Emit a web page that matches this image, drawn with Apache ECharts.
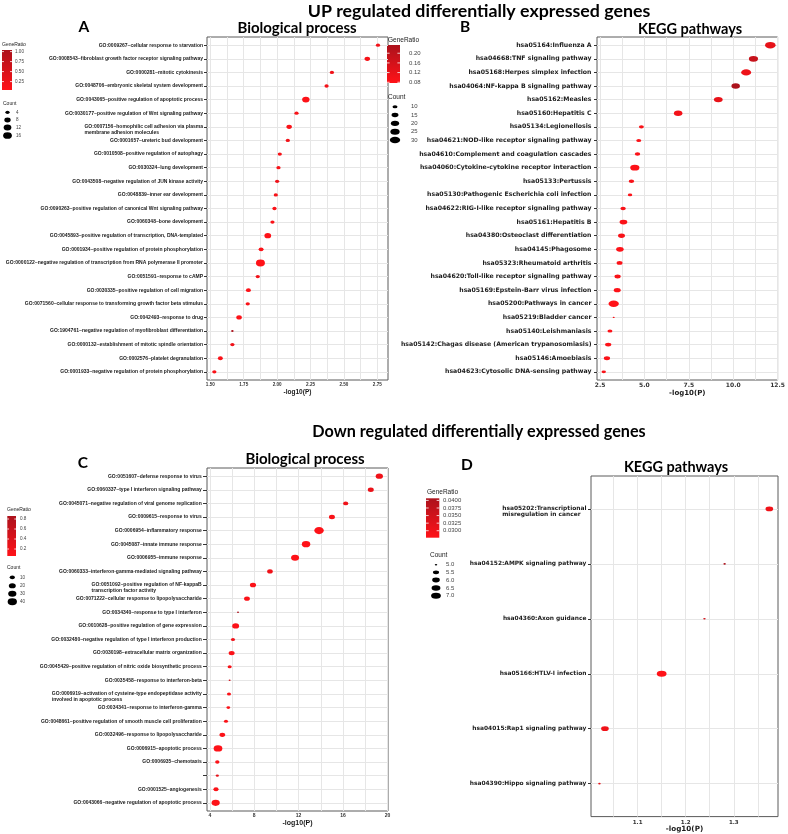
<!DOCTYPE html>
<html><head><meta charset="utf-8">
<script src="https://cdn.jsdelivr.net/npm/echarts@6/dist/echarts.min.js"></script>
<style>html,body{margin:0;padding:0;background:#fff}#c{width:788px;height:834px}</style>
</head><body><div id="c"></div><script>
// ---------- Panel A : UP, Biological process ----------
const aTerms = [
'GO:0009267~cellular response to starvation',
'GO:0008543~fibroblast growth factor receptor signaling pathway',
'GO:0000281~mitotic cytokinesis',
'GO:0048706~embryonic skeletal system development',
'GO:0043065~positive regulation of apoptotic process',
'GO:0030177~positive regulation of Wnt signaling pathway',
'GO:0007156~homophilic cell adhesion via plasma\nmembrane adhesion molecules',
'GO:0001657~ureteric bud development',
'GO:0010508~positive regulation of autophagy',
'GO:0030324~lung development',
'GO:0043508~negative regulation of JUN kinase activity',
'GO:0048839~inner ear development',
'GO:0090263~positive regulation of canonical Wnt signaling pathway',
'GO:0060348~bone development',
'GO:0045893~positive regulation of transcription, DNA-templated',
'GO:0001934~positive regulation of protein phosphorylation',
'GO:0000122~negative regulation of transcription from RNA polymerase II promoter',
'GO:0051591~response to cAMP',
'GO:0030335~positive regulation of cell migration',
'GO:0071560~cellular response to transforming growth factor beta stimulus',
'GO:0042493~response to drug',
'GO:1904761~negative regulation of myofibroblast differentiation',
'GO:0000132~establishment of mitotic spindle orientation',
'GO:0002576~platelet degranulation',
'GO:0001933~negative regulation of protein phosphorylation'];
const aLogP = [2.755,2.675,2.41,2.37,2.215,2.145,2.09,2.08,2.02,2.01,2.0,1.99,1.98,1.965,1.93,1.88,1.875,1.855,1.785,1.78,1.715,1.665,1.665,1.575,1.53];
const aCount = [4,6,4,4,11,4,6,4,4,4,4,4,4,4,9,5,17,4,5,4,6,3,4,5,4];
const aRatio = [0.20,0.15,0.22,0.18,0.06,0.12,0.10,0.20,0.15,0.12,0.25,0.15,0.10,0.10,0.05,0.08,0.04,0.20,0.06,0.10,0.06,1.04,0.22,0.10,0.10];
const aXTicks = [1.50,1.75,2.00,2.25,2.50,2.75];
const aRatioTicks = [1.00,0.75,0.50,0.25];
const aCountTicks = [4,8,12,16];

// ---------- Panel B : UP, KEGG ----------
const bTerms = [
'hsa05164:Influenza A',
'hsa04668:TNF signaling pathway',
'hsa05168:Herpes simplex infection',
'hsa04064:NF-kappa B signaling pathway',
'hsa05162:Measles',
'hsa05160:Hepatitis C',
'hsa05134:Legionellosis',
'hsa04621:NOD-like receptor signaling pathway',
'hsa04610:Complement and coagulation cascades',
'hsa04060:Cytokine-cytokine receptor interaction',
'hsa05133:Pertussis',
'hsa05130:Pathogenic Escherichia coli infection',
'hsa04622:RIG-I-like receptor signaling pathway',
'hsa05161:Hepatitis B',
'hsa04380:Osteoclast differentiation',
'hsa04145:Phagosome',
'hsa05323:Rheumatoid arthritis',
'hsa04620:Toll-like receptor signaling pathway',
'hsa05169:Epstein-Barr virus infection',
'hsa05200:Pathways in cancer',
'hsa05219:Bladder cancer',
'hsa05140:Leishmaniasis',
'hsa05142:Chagas disease (American trypanosomiasis)',
'hsa05146:Amoebiasis',
'hsa04623:Cytosolic DNA-sensing pathway'];
const bLogP = [12.09,11.14,10.73,10.14,9.16,6.90,4.83,4.68,4.61,4.46,4.27,4.19,3.80,3.82,3.71,3.62,3.60,3.49,3.47,3.27,3.27,3.06,2.96,2.89,2.71];
const bCount = [31,24,28,21,22,21,10,10,11,24,11,9,11,18,15,17,12,13,15,30,7,10,13,13,9];
const bRatio = [0.125,0.185,0.11,0.234,0.12,0.10,0.09,0.085,0.085,0.08,0.09,0.085,0.09,0.085,0.09,0.08,0.085,0.09,0.08,0.077,0.09,0.08,0.08,0.085,0.09];
const bXTicks = [2.5,5.0,7.5,10.0,12.5];
const bRatioTicks = [0.20,0.16,0.12,0.08];
const bCountTicks = [10,15,20,25,30];

// ---------- Panel C : DOWN, Biological process ----------
const cTerms = [
'GO:0051607~defense response to virus',
'GO:0060337~type I interferon signaling pathway',
'GO:0045071~negative regulation of viral genome replication',
'GO:0009615~response to virus',
'GO:0006954~inflammatory response',
'GO:0045087~innate immune response',
'GO:0006955~immune response',
'GO:0060333~interferon-gamma-mediated signaling pathway',
'GO:0051092~positive regulation of NF-kappaB\ntranscription factor activity',
'GO:0071222~cellular response to lipopolysaccharide',
'GO:0034340~response to type I interferon',
'GO:0010628~positive regulation of gene expression',
'GO:0032480~negative regulation of type I interferon production',
'GO:0030198~extracellular matrix organization',
'GO:0045429~positive regulation of nitric oxide biosynthetic process',
'GO:0035458~response to interferon-beta',
'GO:0006919~activation of cysteine-type endopeptidase activity\ninvolved in apoptotic process',
'GO:0034341~response to interferon-gamma',
'GO:0048661~positive regulation of smooth muscle cell proliferation',
'GO:0032496~response to lipopolysaccharide',
'GO:0006915~apoptotic process',
'GO:0006935~chemotaxis',
' ',
'GO:0001525~angiogenesis',
'GO:0043066~negative regulation of apoptotic process'];
const cLogP = [19.27,18.5,16.24,15.0,13.84,12.67,11.68,9.42,7.89,7.35,6.54,6.33,6.09,5.97,5.79,5.79,5.73,5.67,5.46,5.13,4.74,4.68,4.68,4.56,4.53];
const cCount = [22,14,10,14,42,32,28,12,15,13,3,20,6,14,6,3,6,5,6,13,34,7,4,10,30];
const cRatio = [0.20,0.25,0.20,0.12,0.08,0.06,0.07,0.20,0.10,0.10,0.86,0.10,0.20,0.10,0.15,0.50,0.10,0.10,0.10,0.10,0.07,0.10,0.30,0.10,0.08];
const cXTicks = [4,8,12,16,20];
const cRatioTicks = [0.8,0.6,0.4,0.2];
const cCountTicks = [10,20,30,40];

// ---------- Panel D : DOWN, KEGG ----------
const dTerms = [
'hsa05202:Transcriptional\nmisregulation in cancer',
'hsa04152:AMPK signaling pathway',
'hsa04360:Axon guidance',
'hsa05166:HTLV-I infection',
'hsa04015:Rap1 signaling pathway',
'hsa04390:Hippo signaling pathway'];
const dLogP = [1.374,1.281,1.239,1.150,1.032,1.0205];
const dCount = [6,5,5,7,6,5];
const dRatio = [0.0300,0.0407,0.0350,0.0277,0.0300,0.0320];
const dXTicks = [1.1,1.2,1.3];
const dRatioTicks = [0.0400,0.0375,0.0350,0.0325,0.0300];
const dCountTicks = [5.0,5.5,6.0,6.5,7.0];

// ---------- styling / layout ----------
const LOW = [255,18,24], HIGH = [172,18,28];
function rgb(c){return 'rgb('+c.map(Math.round).join(',')+')';}
function mix(t){t=Math.max(0,Math.min(1,t));return rgb(LOW.map((l,i)=>l+(HIGH[i]-l)*t));}
const ARIAL='Liberation Sans', DJ='DejaVu Sans', TITLE='Lato';

const panels = [
 {terms:aTerms,logp:aLogP,count:aCount,ratio:aRatio,xTicks:aXTicks,xDec:2,xMin:1.475,xMax:2.83,
  grid:[207,37,181,343],w:[2.5,9],asp:1.3,
  yFont:{f:ARIAL,s:5,lh:5.7},yMargin:4,tickLen:3,xFont:{f:ARIAL,s:4.6},nameFont:{f:ARIAL,s:6.5},nameGap:7,
  lg:{font:ARIAL,fs:5,grTitle:[2,45],bar:[2,50,10,40],barLabelX:15,ratioTicks:aRatioTicks,rDec:2,
      cTitle:[3,103.5],dotX:7.5,dotYs:[112.3,120,127.5,135.5],countTicks:aCountTicks,cDec:0,cLabelX:16}},
 {terms:bTerms,logp:bLogP,count:bCount,ratio:bRatio,xTicks:bXTicks,xDec:1,xMin:2.33,xMax:12.5,
  grid:[597,37,182,343],w:[2,10.5],asp:1.6,
  yFont:{f:DJ,s:6.2,lh:7},yMargin:5.5,tickLen:3,xFont:{f:DJ,s:6},nameFont:{f:DJ,s:7},nameGap:6,
  lg:{font:ARIAL,fs:6.5,grTitle:[388,40],bar:[387,45,13,38],barLabelX:409,ratioTicks:bRatioTicks,rDec:2,
      cTitle:[388,97],dotX:395,dotYs:[106.7,115,123.3,131.7,140],countTicks:bCountTicks,cDec:0,cLabelX:411}},
 {terms:cTerms,logp:cLogP,count:cCount,ratio:cRatio,xTicks:cXTicks,xDec:0,xMin:3.75,xMax:20.05,
  grid:[207,468,181,343],w:[2,9.5],asp:1.35,
  yFont:{f:ARIAL,s:5,lh:6},yMargin:5.3,tickLen:4,xFont:{f:ARIAL,s:5},nameFont:{f:ARIAL,s:7},nameGap:6,
  lg:{font:ARIAL,fs:5,grTitle:[7,510],bar:[7.3,516,8.7,40],barLabelX:20,ratioTicks:cRatioTicks,rDec:1,
      cTitle:[7,568],dotX:12.3,dotYs:[577.3,585.7,593.7,601.7],countTicks:cCountTicks,cDec:0,cLabelX:20}},
 {terms:dTerms,logp:dLogP,count:dCount,ratio:dRatio,xTicks:dXTicks,xDec:1,xMin:1.003,xMax:1.392,
  grid:[591,476,187,343],w:[2.5,9.8],asp:1.6,
  yFont:{f:DJ,s:5.9,lh:5.6},yMargin:4.6,tickLen:3,xFont:{f:DJ,s:5.5},nameFont:{f:DJ,s:7.2},nameGap:6,
  lg:{font:ARIAL,fs:6.5,grTitle:[427,492.7],bar:[426,498.3,13.3,39.4],barLabelX:443,ratioTicks:dRatioTicks,rDec:4,
      cTitle:[430,555.7],dotX:436,dotYs:[564.7,572.3,580,588,595.7],countTicks:dCountTicks,cDec:1,cLabelX:446}}
];

panels.forEach(p=>{
  p.cmin=Math.min(...p.count); p.cmax=Math.max(...p.count);
  p.rmin=Math.min(...p.ratio); p.rmax=Math.max(...p.ratio);
  p.sizeW=c=>p.w[0]+(p.w[1]-p.w[0])*Math.sqrt(Math.max(0,(c-p.cmin)/(p.cmax-p.cmin)));
  p.col=r=>mix((r-p.rmin)/(p.rmax-p.rmin));
  const step=(p.xTicks[1]-p.xTicks[0])/2;
  const all=[];
  for(let v=p.xTicks[0]-step; v<=p.xMax+1e-9; v+=step){ if(v>=p.xMin-1e-9) all.push(+v.toFixed(6)); }
  p.allX=all;
});

function T(x,y,text,size,o){o=o||{};return {type:'text',x:x,y:y,silent:true,z:10,
  style:{text:text,fontSize:size,fontFamily:o.f||ARIAL,fontWeight:o.w||'normal',fill:o.c||'#1a1a1a',
  align:o.a||'left',verticalAlign:'middle',textAlign:o.a||'left',textVerticalAlign:'middle'}};}

const gfx=[];
// main titles
gfx.push(T(479,11,'UP regulated differentially expressed genes',17.8,{f:TITLE,w:'bold',a:'center',c:'#000'}));
gfx.push(T(479,432,'Down regulated differentially expressed genes',16.2,{f:TITLE,w:'bold',a:'center',c:'#000'}));
// panel letters and titles
[['A',84,27],['B',465,27],['C',83,463],['D',467,465]].forEach(l=>gfx.push(T(l[1],l[2],l[0],15.5,{f:TITLE,w:'bold',a:'center',c:'#000'})));
gfx.push(T(297,28,'Biological process',15,{f:TITLE,w:'bold',a:'center',c:'#000'}));
gfx.push(T(690,29,'KEGG pathways',14.5,{f:TITLE,w:'bold',a:'center',c:'#000'}));
gfx.push(T(305,459,'Biological process',15,{f:TITLE,w:'bold',a:'center',c:'#000'}));
gfx.push(T(676,467,'KEGG pathways',14.5,{f:TITLE,w:'bold',a:'center',c:'#000'}));

// legends
panels.forEach(p=>{
  const L=p.lg, b=L.bar;
  gfx.push(T(L.grTitle[0],L.grTitle[1],'GeneRatio',L.fs,{f:L.font,c:'#222'}));
  gfx.push({type:'rect',silent:true,shape:{x:b[0],y:b[1],width:b[2],height:b[3]},
    style:{fill:new echarts.graphic.LinearGradient(0,0,0,1,[{offset:0,color:mix(1)},{offset:1,color:mix(0)}])}});
  L.ratioTicks.forEach(v=>{
    const y=b[1]+(p.rmax-v)/(p.rmax-p.rmin)*b[3];
    const tl=b[2]/5;
    gfx.push({type:'line',silent:true,shape:{x1:b[0],y1:y,x2:b[0]+tl,y2:y},style:{stroke:'#fff',lineWidth:0.8}});
    gfx.push({type:'line',silent:true,shape:{x1:b[0]+b[2]-tl,y1:y,x2:b[0]+b[2],y2:y},style:{stroke:'#fff',lineWidth:0.8}});
    gfx.push(T(L.barLabelX,y,v.toFixed(L.rDec),L.fs*0.92,{f:L.font,c:'#444'}));
  });
  gfx.push(T(L.cTitle[0],L.cTitle[1],'Count',L.fs,{f:L.font,c:'#222'}));
  L.countTicks.forEach((c,i)=>{
    const w=p.sizeW(c), y=L.dotYs[i];
    gfx.push({type:'circle',silent:true,x:L.dotX,y:y,scaleX:p.asp,shape:{cx:0,cy:0,r:w/p.asp/2},style:{fill:'#000'}});
    gfx.push(T(L.cLabelX,y,c.toFixed(L.cDec),L.fs*0.92,{f:L.font,c:'#444'}));
  });
});

function yFmt(p){
  return function(v){
    const n=p.terms[Math.round(v)];
    if(n===undefined) return '';
    const ls=n.split('\n');
    if(ls.length===1) return '{w|'+n+'}';
    return ['{w| }'].concat(ls.map(l=>'{w|'+l+'}')).join('\n');
  };
}

const option={
  animation:false,
  backgroundColor:'#ffffff',
  grid:panels.map(p=>({left:p.grid[0],top:p.grid[1],width:p.grid[2],height:p.grid[3],show:true,
    borderColor:'#5a5a5a',borderWidth:1,backgroundColor:'rgba(0,0,0,0)'})),
  xAxis:panels.map((p,i)=>({gridIndex:i,type:'value',min:p.xMin,max:p.xMax,
    name:'-log10(P)',nameLocation:'middle',nameGap:p.nameGap,
    nameTextStyle:{fontFamily:p.nameFont.f,fontSize:p.nameFont.s,fontWeight:'bold',color:'#1a1a1a'},
    axisLine:{show:false},
    axisTick:{show:false,customValues:p.allX},
    axisLabel:{customValues:p.xTicks,formatter:v=>(+v).toFixed(p.xDec),margin:2.5,
      fontFamily:p.xFont.f,fontSize:p.xFont.s,fontWeight:'bold',color:'#333'},
    splitLine:{show:true,lineStyle:{color:'#e6e6e6',width:1}}})),
  yAxis:panels.map((p,i)=>{
    const idx=p.terms.map((_,j)=>j);
    return {gridIndex:i,type:'value',inverse:true,min:-0.6,max:p.terms.length-0.4,
      axisLine:{show:false},
      axisTick:{show:true,length:p.tickLen,customValues:idx,lineStyle:{color:'#333',width:1}},
      axisLabel:{customValues:idx,formatter:yFmt(p),margin:p.yMargin,
        rich:{w:{align:'left',fontFamily:p.yFont.f,fontSize:p.yFont.s,fontWeight:'bold',color:'#1a1a1a',lineHeight:p.yFont.lh}}},
      splitLine:{show:true,lineStyle:{color:'#e6e6e6',width:1}}};
  }),
  series:panels.map((p,i)=>({type:'scatter',xAxisIndex:i,yAxisIndex:i,silent:true,
    data:p.logp.map((x,j)=>[x,j,p.count[j],p.ratio[j]]),
    symbol:'circle',
    symbolSize:v=>{const w=p.sizeW(v[2]);return [w,w/p.asp];},
    itemStyle:{color:params=>p.col(params.value[3]),opacity:1}})),
  graphic:gfx
};
const chart=echarts.init(document.getElementById('c'),null,{renderer:'canvas'});
chart.setOption(option);
</script></body></html>
